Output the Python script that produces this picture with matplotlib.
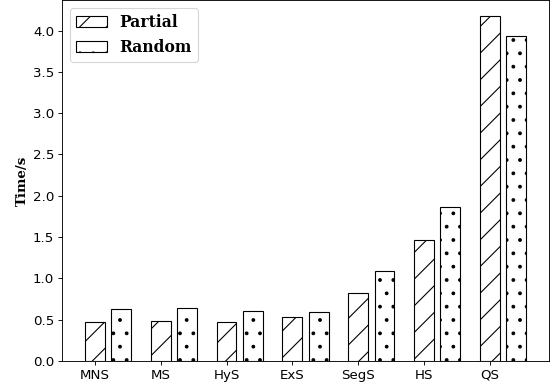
import matplotlib
matplotlib.use('agg')
import matplotlib.pyplot as plt
import numpy as np

methods = ['MNS', 'MS', 'HyS', 'ExS', 'SegS', 'HS', 'QS']
partial = [0.47, 0.49, 0.475, 0.53, 0.82, 1.47, 4.18]
random_ = [0.625, 0.64, 0.60, 0.59, 1.09, 1.865, 3.93]

# dpi 80 gives the same hatch spacing as the reference
DPI = 80
fig = plt.figure(figsize=(553 / DPI, 387 / DPI), dpi=DPI)
ax = fig.add_axes([62 / 553, 26 / 387, 487 / 553, 361 / 387])

x = np.arange(len(methods))
width = 0.3
ax.bar(x, partial, width, color='white', edgecolor='black', hatch='/', label='Partial')
ax.bar(x + 0.4, random_, width, color='white', edgecolor='black', hatch='.', label='Random')

ax.set_xticks(x)
ax.set_xticklabels(methods, fontsize=12)
ax.set_yticks(np.arange(0, 4.01, 0.5))
ax.tick_params(axis='y', labelsize=12)
ax.set_xlim(-0.5, 6.9)
ax.set_ylim(0, 4.37)
ax.set_ylabel('Time/s', family='DejaVu Serif', fontweight='bold', fontsize=12)

ax.legend(loc='upper left', prop={'family': 'DejaVu Serif', 'weight': 'bold', 'size': 14})

fig.savefig('out.png', dpi=DPI)
